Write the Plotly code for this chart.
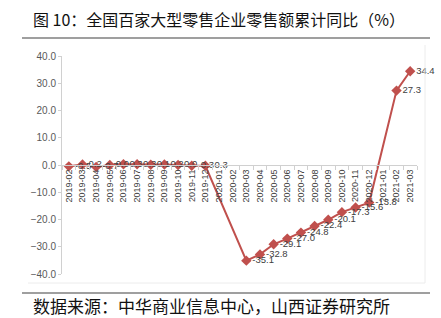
import plotly.graph_objects as go

months = ["2019-02", "2019-03", "2019-04", "2019-05", "2019-06", "2019-07", "2019-08",
          "2019-09", "2019-10", "2019-11", "2019-12", "2020-01", "2020-02", "2020-03",
          "2020-04", "2020-05", "2020-06", "2020-07", "2020-08", "2020-09", "2020-10",
          "2020-11", "2020-12", "2021-01", "2021-02", "2021-03"]
values = [-0.5, 0.2, -0.7, 0.0, 0.3, 0.3, 0.1, 0.2, 0.0, -0.3, -0.3, None, None, -35.1,
          -32.8, -29.1, -27.0, -24.8, -22.4, -20.1, -17.3, -15.6, -13.8, None, 27.3, 34.4]
labels = [("" if v is None else f"{v:.1f}") for v in values]
y_ticks = [40, 30, 20, 10, 0, -10, -20, -30, -40]

title_text = "图 10：全国百家大型零售企业零售额累计同比（%）"
source_text = "数据来源：中华商业信息中心，山西证券研究所"

W, H = 441, 318
L, R, T, B = 62, 24, 56, 44
pw, ph = W - L - R, H - T - B

def px_x(px):
    return (px - L) / pw

def px_y(py):
    return (H - B - py) / ph

color = "#C0504D"
fig = go.Figure()
fig.add_trace(go.Scatter(
    x=months, y=values, mode="lines+markers+text", connectgaps=True,
    line=dict(color=color, width=2),
    marker=dict(symbol="diamond", size=8, color=color),
    text=labels, textposition="middle right",
    textfont=dict(family="Liberation Sans, Arial", size=9.5, color="#404040"),
    cliponaxis=False, showlegend=False,
))

fig.update_layout(
    width=W, height=H,
    margin=dict(l=L, r=R, t=T, b=B),
    paper_bgcolor="white", plot_bgcolor="white",
    xaxis=dict(type="category", anchor="free", position=0.5,
               showline=True, linecolor="#d0d0d0", linewidth=1,
               ticks="outside", tickson="boundaries", ticklen=4, tickcolor="#d0d0d0",
               tickangle=-90, showgrid=False, zeroline=False,
               tickfont=dict(family="Liberation Sans, Arial", size=9, color="#404040"),
               range=[-0.5, len(months) - 0.5]),
    yaxis=dict(range=[-40, 40], tickvals=y_ticks, tickformat=".1f",
               showline=True, linecolor="#d0d0d0", linewidth=1,
               ticks="outside", ticklen=3, tickcolor="#d0d0d0",
               showgrid=False, zeroline=False,
               tickfont=dict(family="Liberation Sans, Arial", size=10, color="#595959")),
    font=dict(family="Noto Sans CJK SC"),
)

fig.add_annotation(text=title_text, xref="paper", yref="paper",
                   x=px_x(31), y=px_y(19), xanchor="left", yanchor="middle",
                   showarrow=False,
                   font=dict(family="Noto Sans CJK SC", size=16, color="#111111"))
fig.add_annotation(text=source_text, xref="paper", yref="paper",
                   x=px_x(31), y=px_y(305), xanchor="left", yanchor="middle",
                   showarrow=False,
                   font=dict(family="Noto Sans CJK SC", size=17, color="#111111"))

# separator lines
for yy in (38, 293):
    fig.add_shape(type="line", xref="paper", yref="paper",
                  x0=px_x(22), x1=px_x(430), y0=px_y(yy), y1=px_y(yy),
                  line=dict(color="#7f7f7f", width=1.5))
# faint chart-area border (right and bottom)
fig.add_shape(type="line", xref="paper", yref="paper",
              x0=px_x(28), x1=px_x(425), y0=px_y(283), y1=px_y(283),
              line=dict(color="#ececec", width=1))
fig.add_shape(type="line", xref="paper", yref="paper",
              x0=px_x(425), x1=px_x(425), y0=px_y(45), y1=px_y(283),
              line=dict(color="#ececec", width=1))

fig.write_html("out.html")
